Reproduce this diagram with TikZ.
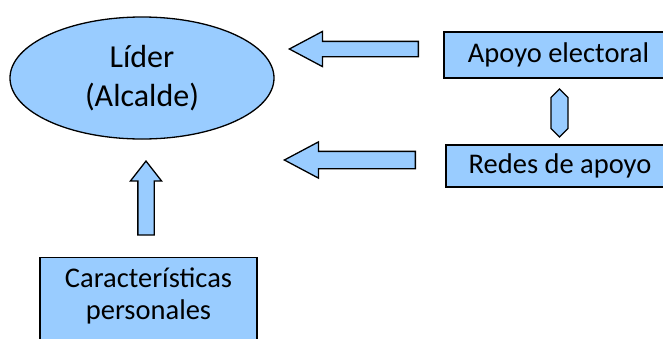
\documentclass[tikz,border=0pt]{standalone}
\usepackage{fontspec}
\setmainfont{Carlito}
\usepackage{xcolor}
\usetikzlibrary{shapes.geometric}
\usetikzlibrary{shapes.arrows}
\definecolor{lblue}{RGB}{153,204,255}

\begin{document}
\begin{tikzpicture}[x=1pt,y=-1pt]
	\tikzstyle{box}=[draw,line width=1.3pt,fill=lblue,inner sep=0pt,font=\fontsize{28.5}{32}\selectfont]
	\tikzstyle{leader}=[box,ellipse,minimum width=264pt,minimum height=122pt,align=center,font=\fontsize{32}{39}\selectfont]
	\tikzstyle{fat}=[draw,line width=1.3pt,fill=lblue,single arrow,anchor=tip,single arrow head extend=10pt,single arrow tip angle=56]
	\tikzstyle{link}=[draw,line width=1.3pt,fill=lblue,double arrow,inner sep=0pt,double arrow head extend=0pt]
	\useasboundingbox (0,0) rectangle (663,338);
	\node[leader] (lider) at (142,78) {Líder\\(Alcalde)};
	\node[box,minimum width=229pt,minimum height=46pt] (apoyo) at (558.5,55) {Apoyo electoral};
	\node[box,minimum width=228pt,minimum height=42pt] (redes) at (560,166) {Redes de apoyo};
	\node[box,anchor=north,minimum width=217pt,text height=62pt,text depth=26pt,align=center] (perso) at (148.5,257) {Características\\personales};
	\node[fat,shape border rotate=180,minimum height=129pt,inner sep=7pt] (a1) at (288,49) {};
	\node[fat,shape border rotate=180,minimum height=131pt,inner sep=8pt,single arrow head extend=9.5pt] (a2) at (283,160) {};
	\node[fat,shape border rotate=90,minimum height=74pt,inner sep=7.5pt,single arrow head extend=7.5pt,single arrow tip angle=76] (a3) at (146,160) {};
	\node[link,shape border rotate=90,minimum height=48pt,minimum width=17pt] (a4) at (559.5,113) {};
\end{tikzpicture}
\end{document}
